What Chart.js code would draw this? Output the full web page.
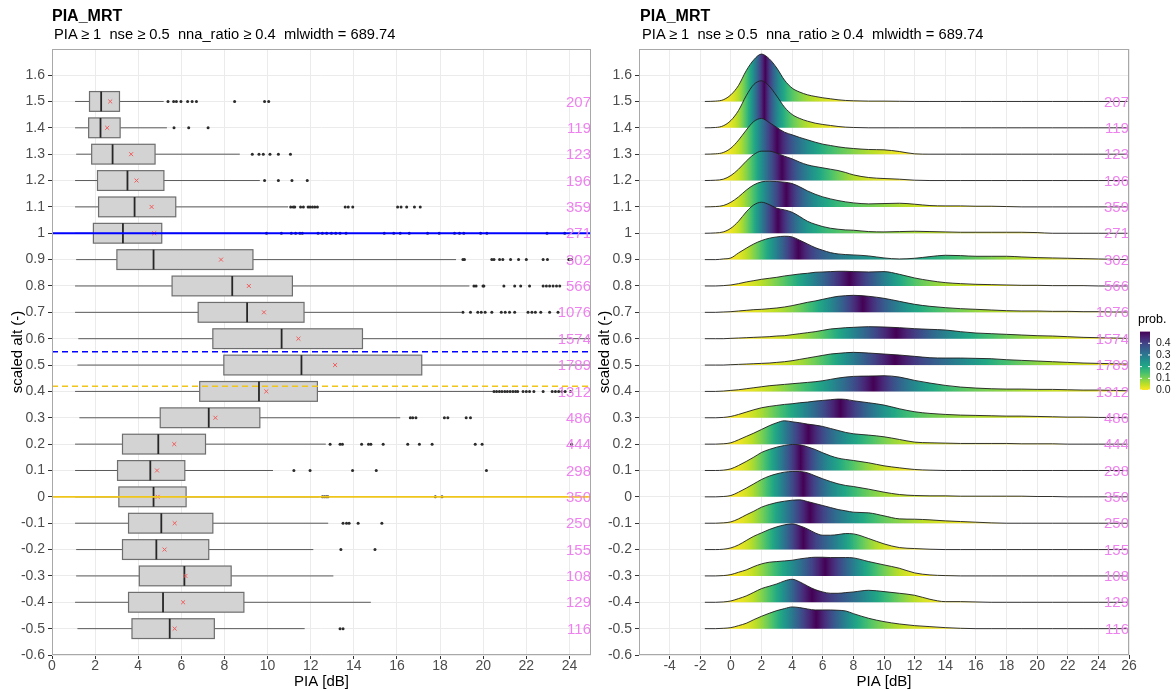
<!DOCTYPE html>
<html>
<head>
<meta charset="utf-8">
<script src="https://cdn.jsdelivr.net/npm/chart.js@4.4.1/dist/chart.umd.min.js"></script>
<style>
  body { margin: 0; background: #fff; font-family: "Liberation Sans", Arial, sans-serif; }
  #wrap { position: relative; width: 1176px; height: 691px; overflow: hidden; }
  .panel { position: absolute; top: 0; }
  .ttl { position: absolute; top: 8px; font-size: 16px; line-height: 16px; font-weight: bold; color: #000; z-index: 2; }
  .sub { position: absolute; top: 26px; font-size: 14.7px; line-height: 16px; color: #000; white-space: pre; z-index: 2; }
</style>
</head>
<body>
<div id="wrap">
  <div class="panel" style="left:0"><canvas id="boxChart" width="596" height="691"></canvas></div>
  <div class="panel" style="left:592px"><canvas id="ridgeChart" width="584" height="691"></canvas></div>
  <div class="ttl" style="left:52px">PIA_MRT</div>
  <div class="sub" style="left:54px">PIA ≥ 1  nse ≥ 0.5  nna_ratio ≥ 0.4  mlwidth = 689.74</div>
  <div class="ttl" style="left:640px">PIA_MRT</div>
  <div class="sub" style="left:642px">PIA ≥ 1  nse ≥ 0.5  nna_ratio ≥ 0.4  mlwidth = 689.74</div>
</div>
<script>
// ---- data ----
const altRows = [1.5, 1.4, 1.3, 1.2, 1.1, 1, 0.9, 0.8, 0.7, 0.6, 0.5, 0.4, 0.3, 0.2, 0.1, 0, -0.1, -0.2, -0.3, -0.4, -0.5];
const nObs = [207, 119, 123, 196, 359, 271, 302, 566, 1076, 1574, 1789, 1312, 486, 444, 298, 350, 250, 155, 108, 129, 116];

const whiskLow  = [1.07, 1.07, 1.12, 1.07, 1.07, 1.07, 1.12, 1.07, 1.07, 1.22, 1.18, 1.07, 1.27, 1.07, 1.07, 1.07, 1.07, 1.12, 1.12, 1.07, 1.18];
const q1        = [1.74, 1.70, 1.84, 2.11, 2.16, 1.92, 3.01, 5.57, 6.78, 7.46, 7.97, 6.85, 5.02, 3.27, 3.04, 3.10, 3.55, 3.27, 4.05, 3.55, 3.71];
const median    = [2.28, 2.25, 2.81, 3.50, 3.83, 3.29, 4.71, 8.36, 9.05, 10.65, 11.57, 9.60, 7.27, 4.93, 4.56, 4.71, 5.07, 4.84, 6.14, 5.15, 5.46];
const q3        = [3.13, 3.16, 4.78, 5.19, 5.74, 5.09, 9.32, 11.15, 11.69, 14.40, 17.15, 12.31, 9.64, 7.12, 6.16, 6.22, 7.46, 7.27, 8.31, 8.90, 7.53];
const whiskHigh = [5.18, 5.33, 8.71, 9.64, 10.95, 9.70, 18.74, 19.36, 18.98, 25.5, 25.5, 20.45, 16.15, 12.70, 10.25, 12.40, 12.81, 12.12, 13.05, 14.79, 11.72];
const meanPIA   = [2.70, 2.56, 3.67, 3.92, 4.62, 4.74, 7.84, 9.13, 9.83, 11.43, 13.13, 9.94, 7.58, 5.67, 4.87, 4.90, 5.69, 5.22, 6.19, 6.08, 5.69];

const outliers = [
  [5.38, 5.64, 5.77, 5.98, 6.29, 6.50, 6.70, 8.47, 9.86, 10.05],
  [5.66, 6.34, 7.24],
  [9.29, 9.60, 9.80, 10.11, 10.50, 11.06],
  [9.86, 10.50, 11.13, 11.84],
  [11.07, 11.19, 11.26, 11.53, 11.66, 11.88, 11.97, 12.08, 12.19, 12.31, 13.60, 13.74, 13.95, 16.03, 16.19, 16.45, 16.81, 17.08],
  [9.95, 10.64, 11.10, 11.30, 11.50, 11.61, 12.34, 12.54, 12.74, 12.96, 13.16, 13.36, 13.64, 15.41, 15.85, 16.15, 16.57, 17.42, 17.96, 18.67, 18.90, 19.10, 19.88, 20.17, 22.96, 23.78],
  [19.06, 19.13, 20.40, 20.50, 20.76, 20.91, 21.27, 21.64, 22.0, 22.78, 22.98, 23.97, 24.09],
  [19.57, 19.67, 19.99, 20.03, 20.96, 21.46, 21.74, 22.15, 22.78, 22.93, 23.08, 23.24, 23.40, 23.55],
  [19.06, 19.41, 19.75, 19.91, 20.09, 20.40, 20.84, 21.02, 21.22, 21.46, 22.08, 22.26, 22.42, 22.67, 23.08, 23.47],
  [],
  [],
  [20.50, 20.62, 20.75, 20.87, 21.0, 21.12, 21.25, 21.38, 21.5, 21.6, 21.85, 22.0, 22.15, 22.35, 22.78, 23.2, 23.35, 23.5, 23.65, 23.8, 24.05],
  [16.62, 16.73, 16.88, 18.20, 18.36, 19.21, 19.41],
  [12.90, 13.36, 13.47, 14.36, 14.68, 14.79, 15.36, 16.50, 17.04, 17.63, 19.63, 19.95, 24.1],
  [11.22, 11.97, 13.94, 15.04, 20.15],
  [12.54, 12.63, 12.72, 12.80, 17.78, 18.09],
  [13.50, 13.66, 13.78, 14.20, 15.30],
  [13.40, 14.98],
  [],
  [],
  [13.36, 13.50]
];

// reference altitudes drawn as horizontal lines
const refLevels = [1, 0.55, 0.42, 0];

// x grid of the density ridges and relative density per row
const ridgeX = [-1.7, -1, -0.5, 0, 0.5, 1, 1.5, 2, 2.5, 3, 3.5, 4, 4.5, 5, 5.5, 6, 6.5, 7, 7.5, 8,
                9, 10, 11, 12, 13, 14, 15, 16, 17, 18, 19, 20, 21, 22, 23, 24, 25, 25.9];
const ridgeDens = [
  [0,1,5,20,48,92,125,142,128,100, 64,40,28,20,15,11,8,5,3,2, 1,1,0.5,0,0,0,0,0,0,0, 0,0,0,0,0,0,0,0],
  [0,1,6,22,52,96,130,141,125,95, 62,40,28,20,14,10,7,4,2,1, 0,0,0,0,0,0,0,0,0,0, 0,0,0,0,0,0,0,0],
  [0,1,5,18,42,72,98,107,95,80, 66,58,50,43,36,30,26,22,19,17, 14,13,8,1,0,0,0,0,0,0, 0,0,0,0,0,0,0,0],
  [0,1,4,15,34,58,78,88,88,82, 73,65,55,47,42,38,34,30,24,17, 9,6,4,1,0,0,0,0,0,0, 0,0,0,0,0,0,0,0],
  [0,1,4,14,30,50,66,75,77,76, 74,70,60,48,38,30,24,19,15,12, 9,10,11,8,4,3,3,2,2,1, 0,0,0,0,0,0,0,0],
  [0,1,4,15,36,64,85,93,86,75, 70,63,50,36,27,20,15,12,10,9, 5,4,5,6,5,4,3,3,3,3, 3,2,0,0,0,0,0,0],
  [0,0,2,5,20,34,47,57,64,68, 70,68,58,47,36,28,21,17,15,14, 11,5,2,4,9,13,12,10,10,10, 8,6,5,4,3,2,1,0],
  [0,0,1,3,7,12,16,20,23,26, 30,33,36,38,41,42,43,44,44,43, 42,43,35,24,16,10,7,5,4,3, 2,2,1,1,1,0,0,0],
  [0,0,1,2,4,6,8,9,11,13, 16,20,25,30,34,39,44,48,50,51, 48,42,33,24,18,14,11,9,7,5, 4,4,3,3,2,2,1,1],
  [0,0,0,1,2,3,4,5,6,8, 9,12,15,18,21,25,29,31,33,34, 36,35,33,30,28,26,21,17,15,13, 11,9,8,6,4,3,2,1],
  [0,0,0,1,2,3,4,5,6,8, 10,13,17,21,25,29,33,35,37,38, 36,33,30,26,22,21,21,20,19,16, 14,12,10,8,6,5,4,3],
  [0,0,1,3,5,8,11,14,17,19, 21,23,25,27,29,32,36,40,43,45, 46,47,43,33,25,18,13,10,8,7, 7,6,6,5,4,4,3,2],
  [0,0,1,4,10,17,24,30,34,37, 40,42,45,47,50,52,54,56,55,51, 45,38,27,18,13,10,8,7,6,5, 5,4,3,2,2,1,1,0],
  [0,0,1,4,13,23,33,44,55,64, 70,67,64,60,57,53,47,41,35,31, 27,22,14,6,4,3,2,2,2,2, 1,1,1,0,0,0,0,0],
  [0,0,1,5,15,27,40,54,63,70, 75,78,77,71,63,53,44,37,33,30, 23,14,8,3,1,0,0,0,0,0, 0,0,0,0,0,0,0,0],
  [0,0,1,4,14,26,39,52,62,69, 74,76,76,72,63,54,46,39,34,31, 23,14,7,4,3,3,2,2,2,2, 2,1,1,0,0,0,0,0],
  [0,0,1,4,13,25,36,48,56,62, 66,69,70,65,59,53,47,41,37,33, 31,22,13,12,10,7,5,3,1,0, 0,0,0,0,0,0,0,0],
  [0,0,1,5,14,27,40,50,60,68, 74,77,71,62,50,43,43,45,48,47, 33,17,6,3,1,0,0,0,0,0, 0,0,0,0,0,0,0,0],
  [0,0,1,4,11,18,28,36,41,43, 45,47,51,54,56,56,55,55,55,54, 43,33,23,9,3,1,0,0,0,0, 0,0,0,0,0,0,0,0],
  [0,0,1,4,11,19,30,41,48,55, 64,69,61,49,38,31,27,27,29,31, 36,32,27,21,9,2,2,1,0,0, 0,0,0,0,0,0,0,0],
  [0,0,1,3,9,16,27,37,46,54, 60,65,63,59,56,56,56,55,53,45, 31,21,14,9,6,3,1,0,0,0, 0,0,0,0,0,0,0,0]
];

const yTicks = [-0.6, -0.5, -0.4, -0.3, -0.2, -0.1, 0, 0.1, 0.2, 0.3, 0.4, 0.5, 0.6, 0.7, 0.8, 0.9, 1, 1.1, 1.2, 1.3, 1.4, 1.5, 1.6];
const xTicksBox = [0, 2, 4, 6, 8, 10, 12, 14, 16, 18, 20, 22, 24];
const xTicksRidge = [-4, -2, 0, 2, 4, 6, 8, 10, 12, 14, 16, 18, 20, 22, 24, 26];
const probTicks = [0, 0.1, 0.2, 0.3, 0.4];

// ---- styling ----
const refStyles = [
  { color: '#0000ff', dash: [], width: 1.8 },
  { color: '#0000ff', dash: [6, 4], width: 1.5 },
  { color: '#efc619', dash: [6, 4], width: 1.5 },
  { color: '#efc619', dash: [], width: 1.8 }
];
const ridgeScale = 1 / 790;   // relative density -> y units
const boxHalf = 0.0375;
const countColor = '#ee82ee';
const frameColor = '#a8a8a8';
const fontFam = '"Liberation Sans", Arial, sans-serif';

Chart.defaults.font.family = fontFam;
Chart.defaults.animation = false;

const fmtAlt = v => String(Math.round(v * 10) / 10);

const viridisHex = ['#440154', '#482475', '#414487', '#355f8d', '#2a788e', '#21918c', '#22a884', '#44bf70', '#7ad151', '#bddf26', '#fde725'];
const viridisRgb = viridisHex.map(h => [1, 3, 5].map(k => parseInt(h.substr(k, 2), 16)));
function viridisAt(f) {
  f = Math.min(1, Math.max(0, f));
  const p = f * 10, k = Math.min(9, Math.floor(p)), t = p - k;
  const a = viridisRgb[k], b = viridisRgb[k + 1];
  return 'rgb(' + a.map((c, j) => Math.round(c + (b[j] - c) * t)).join(',') + ')';
}
// direction -1: 0 -> yellow, 0.5 -> dark purple
const probColor = p => viridisAt(1 - p / 0.5);

function yScale(extra) {
  return Object.assign({
    type: 'linear', min: -0.6, max: 1.699,
    afterBuildTicks: s => { s.ticks = yTicks.map(v => ({ value: v })); },
    ticks: { callback: v => fmtAlt(v), color: '#4d4d4d', font: { size: 14 }, padding: 3 },
    grid: { color: '#ebebeb', tickColor: '#333', tickLength: 4 },
    border: { display: false },
    title: { display: true, text: 'scaled alt (-)', color: '#000', font: { size: 15 }, padding: { top: 9, bottom: 0 } }
  }, extra);
}
function xScale(min, max, ticks) {
  return {
    type: 'linear', min: min, max: max,
    afterBuildTicks: s => { s.ticks = ticks.map(v => ({ value: v })); },
    afterFit: s => { s.height = 36; s.paddingLeft = 0; s.paddingRight = 0; },
    ticks: { callback: v => String(v), color: '#4d4d4d', font: { size: 14 }, padding: -1, maxRotation: 0, autoSkip: false },
    grid: { color: '#ebebeb', tickColor: '#333', tickLength: 4 },
    border: { display: false },
    title: { display: true, text: 'PIA [dB]', color: '#000', font: { size: 15 }, padding: { top: 0, bottom: 0 } }
  };
}

function drawFrame(ctx, a) {
  ctx.save();
  ctx.strokeStyle = frameColor;
  ctx.lineWidth = 1;
  ctx.strokeRect(Math.round(a.left) + 0.5, Math.round(a.top) + 0.5, Math.round(a.width) - 1, Math.round(a.height) - 1);
  ctx.restore();
}
function drawCounts(ctx, a, y) {
  ctx.save();
  ctx.fillStyle = countColor;
  ctx.font = '15px ' + fontFam;
  ctx.textAlign = 'right';
  ctx.textBaseline = 'middle';
  altRows.forEach((r, i) => ctx.fillText(String(nObs[i]), a.right, y.getPixelForValue(r) + 1));
  ctx.restore();
}

// ---- left: box plots ----
const boxPlugin = {
  id: 'boxes',
  beforeDatasetsDraw(chart) {
    const { ctx, chartArea: a, scales: { x, y } } = chart;
    const px = v => x.getPixelForValue(v);
    ctx.save();
    ctx.beginPath();
    ctx.rect(a.left, a.top, a.width, a.height);
    ctx.clip();
    altRows.forEach((r, i) => {
      const yc = y.getPixelForValue(r);
      const yt = y.getPixelForValue(r + boxHalf), yb = y.getPixelForValue(r - boxHalf);
      ctx.strokeStyle = '#5a5a5a';
      ctx.lineWidth = 1;
      ctx.beginPath();
      ctx.moveTo(px(whiskLow[i]), yc); ctx.lineTo(px(q1[i]), yc);
      ctx.moveTo(px(q3[i]), yc); ctx.lineTo(px(whiskHigh[i]), yc);
      ctx.stroke();
      ctx.fillStyle = '#d3d3d3';
      ctx.fillRect(px(q1[i]), yt, px(q3[i]) - px(q1[i]), yb - yt);
      ctx.strokeStyle = '#6e6e6e';
      ctx.lineWidth = 1.2;
      ctx.strokeRect(px(q1[i]), yt, px(q3[i]) - px(q1[i]), yb - yt);
      ctx.strokeStyle = '#262626';
      ctx.lineWidth = 1.8;
      ctx.beginPath();
      ctx.moveTo(px(median[i]), yt); ctx.lineTo(px(median[i]), yb);
      ctx.stroke();
    });
    ctx.restore();
  },
  afterDatasetsDraw(chart) {
    const { ctx, chartArea: a, scales: { y } } = chart;
    ctx.save();
    refLevels.forEach((lv, i) => {
      const st = refStyles[i];
      const yy = y.getPixelForValue(lv);
      ctx.strokeStyle = st.color;
      ctx.lineWidth = st.width;
      ctx.setLineDash(st.dash);
      ctx.beginPath();
      ctx.moveTo(a.left, yy); ctx.lineTo(a.right, yy);
      ctx.stroke();
    });
    ctx.restore();
    drawCounts(ctx, a, y);
    drawFrame(ctx, a);
  }
};

const outlierPts = [];
outliers.forEach((row, i) => row.forEach(v => outlierPts.push({ x: v, y: altRows[i] })));

new Chart(document.getElementById('boxChart'), {
  type: 'scatter',
  data: {
    datasets: [
      {
        label: 'mean',
        data: altRows.map((r, i) => ({ x: meanPIA[i], y: r })),
        pointStyle: 'crossRot', pointRadius: 2.8, borderColor: '#f25c5c', borderWidth: 1, backgroundColor: '#f25c5c'
      },
      {
        label: 'outliers',
        data: outlierPts,
        pointStyle: 'circle', pointRadius: 1.5, backgroundColor: '#2b2b2b', borderWidth: 0
      }
    ]
  },
  options: {
    responsive: false,
    events: [],
    layout: { padding: { left: 0, right: 2, top: 49, bottom: 0 } },
    plugins: { legend: { display: false }, tooltip: { enabled: false } },
    scales: {
      x: xScale(0, 25, xTicksBox),
      y: yScale({ afterFit: s => { s.width = 52; } })
    }
  },
  plugins: [boxPlugin]
});

// ---- right: density ridges filled by tail probability ----
const gradCache = {};
function ridgeFill(c) {
  const chart = c.chart, i = c.datasetIndex, xs = chart.scales.x;
  if (!chart.chartArea || !xs || i === undefined) return '#21918c';
  const key = i + ':' + xs.left + ':' + xs.right;
  if (gradCache[key]) return gradCache[key];
  const d = ridgeDens[i];
  const fx = [ridgeX[0]], fc = [0];
  let cum = 0;
  for (let k = 0; k < ridgeX.length - 1; k++) {
    const sub = 10, dx = (ridgeX[k + 1] - ridgeX[k]) / sub;
    for (let s = 0; s < sub; s++) {
      const d0 = d[k] + (d[k + 1] - d[k]) * s / sub;
      const d1 = d[k] + (d[k + 1] - d[k]) * (s + 1) / sub;
      cum += (d0 + d1) / 2 * dx;
      fx.push(ridgeX[k] + (s + 1) * dx);
      fc.push(cum);
    }
  }
  const g = chart.ctx.createLinearGradient(xs.left, 0, xs.right, 0);
  fx.forEach((v, j) => {
    const F = fc[j] / cum;
    const off = (xs.getPixelForValue(v) - xs.left) / (xs.right - xs.left);
    g.addColorStop(Math.min(1, Math.max(0, off)), probColor(0.5 - Math.abs(0.5 - F)));
  });
  gradCache[key] = g;
  return g;
}

const ridgePlugin = {
  id: 'ridgeExtras',
  afterDatasetsDraw(chart) {
    const { ctx, chartArea: a, scales: { y } } = chart;
    drawCounts(ctx, a, y);
    drawFrame(ctx, a);
    // colour bar legend
    const bx = a.right + 11, bw = 10, yBot = 390, yTop = 331.6;
    const per = (yBot - yTop) / 0.5;
    ctx.save();
    const g = ctx.createLinearGradient(0, yBot, 0, yTop);
    for (let k = 0; k <= 20; k++) g.addColorStop(k / 20, probColor(0.5 * k / 20));
    ctx.fillStyle = g;
    ctx.fillRect(bx, yTop, bw, yBot - yTop);
    ctx.strokeStyle = '#fff';
    ctx.lineWidth = 1;
    ctx.fillStyle = '#1a1a1a';
    ctx.font = '10.5px ' + fontFam;
    ctx.textAlign = 'left';
    ctx.textBaseline = 'middle';
    probTicks.forEach(p => {
      const yy = yBot - p * per;
      ctx.beginPath();
      ctx.moveTo(bx, yy); ctx.lineTo(bx + 2, yy);
      ctx.moveTo(bx + bw - 2, yy); ctx.lineTo(bx + bw, yy);
      ctx.stroke();
      ctx.fillText(p.toFixed(1), bx + bw + 6, yy);
    });
    ctx.font = '12.5px ' + fontFam;
    ctx.fillStyle = '#000';
    ctx.fillText('prob.', bx - 2, 320);
    ctx.restore();
  }
};

new Chart(document.getElementById('ridgeChart'), {
  type: 'line',
  data: {
    datasets: altRows.map((r, i) => ({
      label: fmtAlt(r),
      data: ridgeX.map((x, k) => ({ x: x, y: r + ridgeDens[i][k] * ridgeScale })),
      order: altRows.length - i,
      fill: { value: r },
      backgroundColor: ridgeFill,
      borderColor: '#1e1e1e',
      borderWidth: 0.9,
      pointRadius: 0,
      cubicInterpolationMode: 'monotone'
    }))
  },
  options: {
    responsive: false,
    events: [],
    layout: { padding: { left: 0, right: 47, top: 49, bottom: 0 } },
    plugins: { legend: { display: false }, tooltip: { enabled: false } },
    scales: {
      x: xScale(-6, 26, xTicksRidge),
      y: yScale({
        afterFit: s => { s.width = 47; },
        title: { display: true, text: 'scaled alt (-)', color: '#000', font: { size: 15 }, padding: { top: 4, bottom: 0 } }
      })
    }
  },
  plugins: [ridgePlugin]
});
</script>
</body>
</html>
